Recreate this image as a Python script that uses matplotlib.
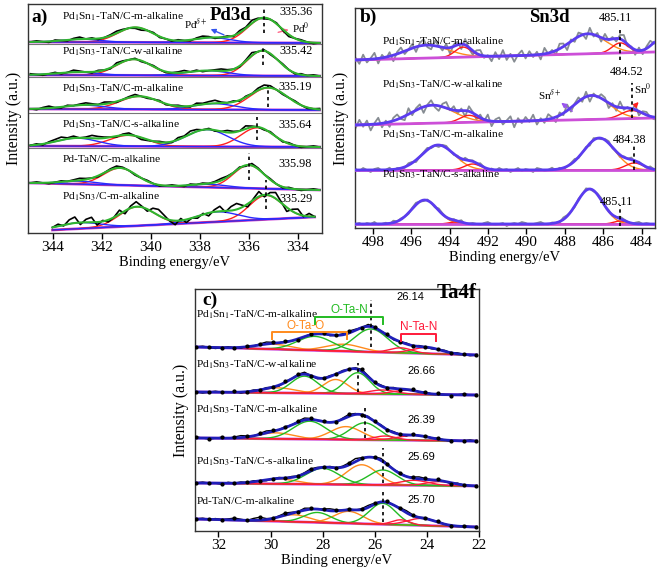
import numpy as np
import matplotlib
matplotlib.use('Agg')
import matplotlib.pyplot as plt

plt.rcParams['font.family'] = ['Liberation Serif', 'DejaVu Serif']
plt.rcParams['mathtext.fontset'] = 'stix'

# ---------------- Panel a : Pd3d ----------------
A_LABELS = ['Pd$_1$Sn$_1$-TaN/C-m-alkaline', 'Pd$_1$Sn$_3$-TaN/C-w-alkaline',
            'Pd$_1$Sn$_3$-TaN/C-m-alkaline', 'Pd$_1$Sn$_3$-TaN/C-s-alkaline',
            'Pd-TaN/C-m-alkaline', 'Pd$_1$Sn$_3$/C-m-alkaline']
A_VALUES = ['335.36', '335.42', '335.19', '335.64', '335.98', '335.29']
A_PEAKPOS = [335.36, 335.42, 335.19, 335.64, 335.98, 335.29]
A_XRANGE = [(344.9, 333.1)] * 5 + [(344.0, 333.3)]
A_BG = [(191, 190), (158, 157), (124, 123), (87, 86), (50, 43), (3, 16)]
A_PD0 = [[(335.36, 25, 1.6), (340.62, 15, 1.7)],
         [(335.42, 25, 1.5), (340.68, 16, 1.7)],
         [(335.19, 22, 1.8), (340.45, 13, 1.9)],
         [(335.64, 19, 1.6), (340.90, 11, 1.8)],
         [(335.98, 23, 1.5), (341.24, 17, 1.6)],
         [(335.29, 24, 1.6), (340.55, 19, 1.7)]]
A_PDD = [[(337.5, 5, 1.8), (342.8, 3, 1.8)],
         [(337.7, 5, 2.0), (343.0, 3, 2.0)],
         [(337.4, 6, 2.0), (342.7, 4, 2.0)],
         [(337.7, 17, 2.0), (343.0, 8, 2.0)],
         [(337.6, 3, 1.8), (342.9, 3, 1.8)],
         [(337.3, 10, 2.0), (342.9, 6, 2.0)]]
A_NOISE = [
    [0,1,0,-1,1,0,-1,1,2,0,1,-1,0,1,2,1,0,-1,-2,0,1,-1,0,-1,1,0,-1,1,2,1,-1,0,1,-1,2,1,3,1,-1,0,1,-1,-2,0,1,0,-1,0],
    [1,0,-1,0,1,-1,0,2,1,0,-1,1,0,-1,2,1,0,1,-1,0,1,0,-1,0,1,2,0,1,-1,0,1,2,1,0,-1,1,3,0,1,-1,0,1,0,-1,1,0,1,0],
    [0,-1,1,2,0,-1,1,0,1,2,1,0,2,1,-1,0,1,2,0,-1,0,1,-1,0,1,0,-1,2,1,2,3,1,0,1,-1,1,0,2,3,2,0,-1,0,1,0,-1,0,1],
    [0,1,-1,1,2,3,1,2,0,1,3,2,1,0,-1,1,2,0,-2,-1,0,1,0,-1,2,1,3,2,0,1,-1,0,2,1,0,3,1,0,-1,1,0,-1,1,0,-1,0,1,0],
    [0,1,0,-1,0,1,0,1,2,1,0,-1,0,1,2,1,0,-1,0,1,0,-1,0,1,0,-1,1,0,1,0,1,2,1,0,1,-1,2,1,0,1,0,-1,1,0,-1,0,1,0],
    [0,2,-1,4,6,-2,3,5,-3,1,-2,0,4,-3,2,5,1,-2,4,6,3,-1,-4,2,-3,0,-2,1,-3,2,5,-1,4,6,2,-3,1,5,-2,3,6,1,-4,2,5,-1,3,0]]
A_SEPARATORS = [189, 156, 120, 85]

# ---------------- Panel b : Sn3d ----------------
B_LABELS = ['Pd$_1$Sn$_1$-TaN/C-m-alkaline', 'Pd$_1$Sn$_3$-TaN/C-w-alkaline',
            'Pd$_1$Sn$_3$-TaN/C-m-alkaline', 'Pd$_1$Sn$_3$-TaN/C-s-alkaline']
B_VALUES = ['485.11', '484.52', '484.38', '485.11']
B_PEAKPOS = [485.11, 484.52, 484.38, 485.11]
B_BG = [(168, 176), (103, 110), (58, 58), (4, 4)]
B_SND = [[(495.2, 13, 2.6), (486.8, 20, 2.2), (482.9, 14, 1.2)],
         [(494.9, 18, 2.6), (486.6, 24, 2.2)],
         [(494.6, 25, 2.0), (486.2, 32, 1.9)],
         [(495.3, 24, 1.6), (486.7, 35, 1.6)]]
B_SN0 = [[(493.3, 10, 1.0), (485.11, 10, 1.0)],
         [(493.0, 7, 1.1), (484.52, 8, 1.3)],
         [(492.8, 6, 1.0), (484.38, 7, 1.1)],
         [(493.7, 2, 0.8), (485.11, 3, 0.8)]]
B_NOISE = [
    [2,-4,5,-3,1,6,-5,3,-2,4,-6,2,5,-3,0,4,-5,3,6,-2,-4,5,1,-3,4,-6,2,3,-5,6,-1,-4,3,5,-2,1,-5,4,-3,6,-4,2,-6,1,5,-3,4,-2,3,-5,6,-1,2,-4,5,3,-6,2,-3,4,1,-5,6,-2,3,-4,5,-1,2,-3,4,6,-2,1,-5,3,-4,2,5,-1],
    [-3,5,-2,4,-6,1,6,-4,2,-5,3,5,-1,-4,6,-3,2,4,-6,1,5,-2,-5,3,6,-1,4,-3,2,-6,5,1,-4,3,-2,6,-5,2,4,-3,1,5,-6,3,-2,4,-1,6,-4,2,-3,5,1,-5,3,-2,6,-4,1,4,-3,5,-6,2,-1,4,3,-5,2,-4,6,-2,1,-3,5,-4,2,3,-1,-2],
    [1,-1,2,0,-2,1,2,-1,0,2,-2,1,0,-1,2,1,-2,0,1,2,-1,0,-2,1,2,0,-1,1,-2,2,0,1,-1,2,0,-2,1,-1,2,0,1,-2,0,2,-1,1,0,-2,2,1,-1,0,2,-1,1,-2,0,1,2,-1,0,1,-2,2,0,-1,1,2,-1,0,-2,1,0,2,-1,1,0,-1,2,0],
    [0,1,-1,1,0,2,-1,0,1,-1,2,0,1,0,-1,1,2,0,-1,1,0,-1,2,1,0,-1,1,0,2,-1,0,1,0,-1,1,2,0,-1,0,1,-2,0,1,0,2,1,-1,0,1,2,0,-1,1,0,-1,2,1,0,-1,1,0,2,0,-1,1,2,0,1,-1,0,2,1,0,-1,1,2,0,1,0,-1]]

# ---------------- Panel c : Ta4f ----------------
C_LABELS = ['Pd$_1$Sn$_1$-TaN/C-m-alkaline', 'Pd$_1$Sn$_3$-TaN/C-w-alkaline',
            'Pd$_1$Sn$_3$-TaN/C-m-alkaline', 'Pd$_1$Sn$_3$-TaN/C-s-alkaline',
            'Pd-TaN/C-m-alkaline']
C_VALUES = ['26.14', '26.66', '26.39', '25.69', '25.70']
C_PEAKPOS = [26.14, 26.66, 26.39, 25.69, 25.70]
C_BG = [(184, 176), (139, 136), (93, 90), (48, 45), (12, 4)]
C_OTAO = [[(29.9, 5, 1.6), (27.2, 7, 1.6)],
          [(29.7, 5, 1.5), (27.5, 14, 1.1)],
          [(29.8, 6, 1.6), (27.1, 13, 1.4)],
          [(29.7, 5, 1.6), (26.5, 20, 1.4)],
          [(29.1, 7, 1.4), (27.0, 12, 1.3)]]
C_OTAN = [[(28.3, 14, 1.6), (26.14, 23, 1.5)],
          [(28.7, 17, 1.2), (26.66, 21, 1.1)],
          [(28.5, 18, 1.5), (26.39, 17, 1.3)],
          [(28.0, 16, 1.5), (25.69, 15, 1.3)],
          [(28.2, 10, 1.2), (25.70, 21, 1.2)]]
C_NTAN = [[(25.0, 5, 1.0), (24.0, 6, 1.3)],
          [(25.7, 4, 1.2), (24.8, 4, 1.2)],
          [(25.6, 4, 1.0), (24.5, 5, 1.4)],
          [(24.5, 5, 1.3), (23.5, 4, 1.2)],
          [(25.0, 5, 0.8), (24.2, 7, 1.3)]]
C_NOISE = [
    [0,1,0,-1,0,1,0,-1,1,0,1,2,1,0,1,0,-1,0,1,0,1,-1,0,1,2,1,0,2,1,0,1,-1,0,1,0,1,0,-1,0,1,0,1,0,-1,0],
    [0,-1,0,1,0,0,1,-1,0,1,0,1,0,-1,1,0,1,2,0,-1,0,1,0,1,0,1,2,1,0,1,0,1,-1,0,1,0,1,0,1,0,-1,0,1,0,0],
    [1,0,-1,0,1,0,1,2,1,0,1,2,1,0,1,0,1,2,1,0,1,0,-1,1,2,1,0,1,0,1,0,1,0,-1,1,0,1,0,1,0,-1,0,0,1,0],
    [0,1,0,0,-1,1,0,1,0,1,0,-1,0,1,0,1,0,1,2,1,0,1,0,1,2,3,1,0,1,2,1,0,1,0,1,2,1,0,1,0,-1,1,0,0,0],
    [0,1,0,1,0,1,2,1,0,2,3,1,0,1,2,1,0,2,1,0,1,2,1,0,1,0,1,2,1,0,1,0,1,2,1,0,1,0,1,0,-1,0,1,0,0]]

MAG = '#cc4fd8'
SANS = ['Liberation Sans', 'DejaVu Sans']
LABEL_FS = 8.2
VALUE_FS = 8.8


def gauss(x, c, h, w):
    return h * np.exp(-4 * np.log(2) * (x - c) ** 2 / w ** 2)


def bgline(x, x0, x1, bg):
    return bg[0] + (bg[1] - bg[0]) * (x - x0) / (x1 - x0)


def style_axes(ax, xlim, ylim, ticks):
    ax.set_xlim(*xlim)
    ax.set_ylim(*ylim)
    ax.set_yticks([])
    ax.set_xticks(ticks)
    ax.tick_params(axis='x', direction='out', length=4, width=1, labelsize=11, pad=2)
    for s in ax.spines.values():
        s.set_linewidth(1.0)
        s.set_color('#333333')
    ax.set_xlabel('Binding energy/eV', fontsize=10.5, labelpad=1)
    ax.set_ylabel('Intensity (a.u.)', fontsize=11.5, labelpad=4)


W, H = 661, 568
fig = plt.figure(figsize=(W / 100, H / 100), dpi=100)

# ===== panel a =====
axa = fig.add_axes([28 / W, 1 - 233 / H, 294 / W, 229 / H])
style_axes(axa, (345, 333), (0, 229), [344, 342, 340, 338, 336, 334])
for yy in A_SEPARATORS:
    axa.axhline(yy, color='#777777', lw=0.8, zorder=1)
for i in range(6):
    x0, x1 = A_XRANGE[i]
    x = np.linspace(x0, x1, 400)
    bg = bgline(x, x0, x1, A_BG[i])
    env = bg.copy()
    for (c, h, w) in A_PD0[i]:
        g = gauss(x, c, h, w)
        env += g
        axa.plot(x, bg + g, color='#ff2020', lw=1.0, zorder=3)
    for (c, h, w) in A_PDD[i]:
        g = gauss(x, c, h, w)
        env += g
        axa.plot(x, bg + g, color='#2a2aff', lw=1.0, zorder=3)
    axa.plot(x, bg, color=MAG, lw=2.0, zorder=2)
    xe = np.linspace(x0, x1, len(A_NOISE[i]))
    be = bgline(xe, x0, x1, A_BG[i])
    ye = be + sum(gauss(xe, c, h, w) for (c, h, w) in A_PD0[i] + A_PDD[i]) + np.array(A_NOISE[i])
    axa.plot(xe, ye, color='black', lw=1.2, zorder=4)
    axa.plot(x, env, color='#2fb52f', lw=1.5, zorder=5)
    axa.text(343.6, [216, 181, 144, 108, 73, 36][i], A_LABELS[i], fontsize=LABEL_FS,
             va='center', ha='left', zorder=6)
    axa.text(333.4, [221, 182, 146, 108, 69, 34][i], A_VALUES[i], fontsize=VALUE_FS,
             va='center', ha='right', zorder=6)
    ylo, yhi = [(200, 226), (168, 186), (126, 147), (93, 116), (53, 80), (24, 53)][i]
    axa.plot([A_PEAKPOS[i]] * 2, [ylo, yhi], color='black', ls=(0, (2, 2)), lw=1.2, zorder=6)
axa.text(344.85, 216, 'a)', fontsize=14, fontweight='bold', va='center', ha='left')
axa.text(336.75, 218, 'Pd3d', fontsize=13.5, fontweight='bold', va='center', ha='center')
axa.text(338.15, 209, r'Pd$^{\delta+}$', fontsize=8, va='center', ha='center')
axa.annotate('', xy=(337.65, 205), xytext=(336.9, 197),
             arrowprops=dict(arrowstyle='-|>', color='#3355ee', lw=1.0, mutation_scale=7))
axa.text(333.85, 205, r'Pd$^{0}$', fontsize=8, va='center', ha='center')
axa.annotate('', xy=(334.25, 204), xytext=(334.9, 200),
             arrowprops=dict(arrowstyle='-|>', color='#ff6688', lw=1.0, mutation_scale=7))

# ===== panel b =====
axb = fig.add_axes([355 / W, 1 - 228 / H, 300 / W, 220 / H])
style_axes(axb, (498.93, 483.3), (0, 220), [498, 496, 494, 492, 490, 488, 486, 484])
for i in range(4):
    x0, x1 = 498.9, 483.35
    xe = np.linspace(x0, x1, len(B_NOISE[i]))
    be = bgline(xe, x0, x1, B_BG[i])
    ye = be + sum(gauss(xe, c, h, w) for (c, h, w) in B_SND[i] + B_SN0[i]) + np.array(B_NOISE[i])
    axb.plot(xe, ye, color='#868c92', lw=1.3, zorder=2)
    x = np.linspace(x0, x1, 400)
    bg = bgline(x, x0, x1, B_BG[i])
    env = bg.copy()
    for (c, h, w) in B_SND[i]:
        g = gauss(x, c, h, w)
        env += g
        axb.plot(x, bg + g, color='#ff8c1a', lw=1.0, zorder=3)
    for (c, h, w) in B_SN0[i]:
        g = gauss(x, c, h, w)
        env += g
        axb.plot(x, bg + g, color='#ff1a1a', lw=1.0, zorder=3)
    axb.plot(x, bg, color=MAG, lw=2.0, zorder=4)
    axb.plot(x, env, color='#5a3cf0', lw=2.0, zorder=5)
    axb.text(497.5, [186, 143, 93, 53][i], B_LABELS[i], fontsize=LABEL_FS,
             va='center', ha='left', zorder=6)
    axb.text([485.34, 484.76, 484.6, 485.29][i], [210, 156, 88, 26][i], B_VALUES[i],
             fontsize=VALUE_FS, va='center', ha='center', zorder=6)
    ylo, yhi = [(168, 201), (110, 145), (58, 82), (2, 23)][i]
    axb.plot([B_PEAKPOS[i]] * 2, [ylo, yhi], color='black', ls=(0, (2, 2)), lw=1.2, zorder=6)
axb.text(498.7, 211, 'b)', fontsize=14, fontweight='bold', va='center', ha='left')
axb.text(488.8, 211, 'Sn3d', fontsize=13.5, fontweight='bold', va='center', ha='center')
axb.text(488.8, 133, r'Sn$^{\delta+}$', fontsize=8, va='center', ha='center')
axb.annotate('', xy=(488.3, 127), xytext=(487.5, 115),
             arrowprops=dict(arrowstyle='-|>', color='#9955ee', lw=1.0, mutation_scale=7))
axb.text(483.95, 139, r'Sn$^{0}$', fontsize=8, va='center', ha='center')
axb.annotate('', xy=(484.05, 128), xytext=(484.45, 120),
             arrowprops=dict(arrowstyle='-|>', color='#ff2020', lw=1.0, mutation_scale=7))

# ===== panel c =====
axc = fig.add_axes([195 / W, 1 - 531 / H, 284 / W, 242 / H])
style_axes(axc, (32.9, 22.0), (0, 242), [32, 30, 28, 26, 24, 22])
for i in range(5):
    x0, x1 = 32.85, 22.1
    x = np.linspace(x0, x1, 400)
    bg = bgline(x, x0, x1, C_BG[i])
    env = bg.copy()
    for grp, col in ((C_OTAO, '#ff8a1c'), (C_OTAN, '#22bb22'), (C_NTAN, '#ff1a3a')):
        for (c, h, w) in grp[i]:
            g = gauss(x, c, h, w)
            env += g
            axc.plot(x, bg + g, color=col, lw=1.0, zorder=3)
    axc.plot(x, bg, color=MAG, lw=2.0, zorder=2)
    xe = np.linspace(x0, x1, len(C_NOISE[i]))
    be = bgline(xe, x0, x1, C_BG[i])
    ye = be + sum(gauss(xe, c, h, w) for (c, h, w) in C_OTAO[i] + C_OTAN[i] + C_NTAN[i]) + np.array(C_NOISE[i])
    axc.plot(xe, ye, color='black', lw=1.0, zorder=4)
    axc.plot(x, env, color='#1f1fb8', lw=2.0, zorder=5)
    axc.plot(xe[::2], ye[::2], 'o', color='black', ms=2.0, zorder=6)
    axc.text(32.85, [216, 166, 121, 69, 29][i], C_LABELS[i], fontsize=LABEL_FS,
             va='center', ha='left', zorder=7)
    axc.text([24.65, 24.2, 24.2, 24.2, 24.2][i], [234, 160, 111, 74, 31][i], C_VALUES[i],
             fontsize=8, va='center', ha='center', family=SANS, zorder=7)
    ylo, yhi = [(184, 231), (139, 168), (93, 126), (48, 83), (9, 41)][i]
    axc.plot([C_PEAKPOS[i]] * 2, [ylo, yhi], color='black', ls=(0, (2, 2)), lw=1.2, zorder=7)
axc.text(32.6, 231, 'c)', fontsize=14, fontweight='bold', va='center', ha='left')
axc.text(22.85, 238, 'Ta4f', fontsize=15, fontweight='bold', va='center', ha='center')
for (xa_, xb_, yb, lab, col, dy) in ((29.93, 27.06, 199, 'O-Ta-O', '#ff8a1c', 6),
                                    (28.28, 25.70, 214, 'O-Ta-N', '#22bb22', 7),
                                    (25.00, 23.65, 197, 'N-Ta-N', '#ff1a3a', 7)):
    axc.plot([xa_, xa_, xb_, xb_], [yb - 7, yb, yb, yb - 7], color=col, lw=1.4, zorder=7)
    axc.text((xa_ + xb_) / 2 + (0.15 if lab == 'O-Ta-O' else 0), yb + dy, lab, color=col,
             fontsize=8.5, ha='center', va='center', family=SANS, zorder=7)

fig.savefig('out.png', dpi=100)
